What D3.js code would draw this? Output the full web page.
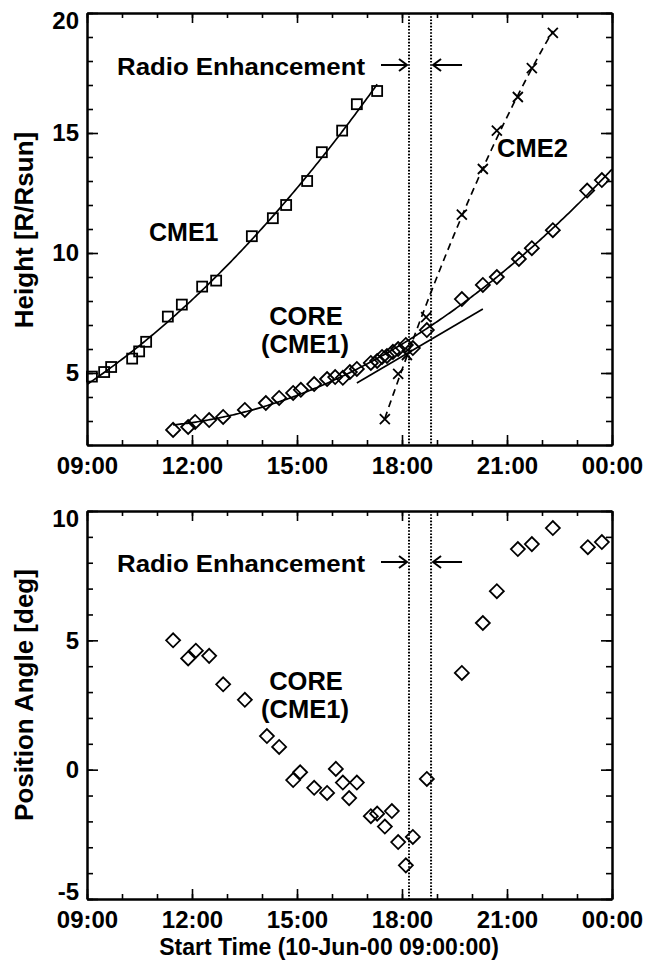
<!DOCTYPE html>
<html>
<head>
<meta charset="utf-8">
<script src="https://cdn.jsdelivr.net/npm/d3@7"></script>
<style>
  body { margin: 0; background: #fff; }
  text { font-family: "Liberation Sans", Arial, Helvetica, sans-serif; font-weight: bold; fill: #000; }
</style>
</head>
<body>
<div id="chart"></div>
<script>
// times are hours after 00:00 on 10-Jun-00 (24 = 00:00 next day)
var cme1Time   = [9.14, 9.49, 9.69, 10.29, 10.49, 10.69, 11.31, 11.71, 12.29, 12.69, 13.71, 14.31, 14.69, 15.29, 15.71, 16.29, 16.71, 17.29];
var cme1Height = [4.85, 5.04, 5.25, 5.6, 5.9, 6.3, 7.35, 7.85, 8.6, 8.85, 10.7, 11.45, 12.0, 13.0, 14.2, 15.1, 16.2, 16.75];

var coreTime   = [11.46, 11.89, 12.09, 12.49, 12.89, 13.51, 14.11, 14.49, 14.89, 15.11, 15.49, 15.86, 16.09, 16.31, 16.51, 16.71, 17.11, 17.29, 17.43, 17.57, 17.74, 17.89, 18.11, 18.31, 18.71, 19.71, 20.31, 20.71, 21.34, 21.71, 22.31, 23.29, 23.71];
var coreHeight = [2.63, 2.75, 2.96, 3.04, 3.17, 3.46, 3.75, 3.96, 4.17, 4.3, 4.54, 4.75, 4.83, 4.8, 5.04, 5.17, 5.42, 5.5, 5.67, 5.71, 5.88, 6.0, 6.17, 6.04, 6.79, 8.08, 8.67, 9.0, 9.75, 10.2, 10.95, 12.6, 13.04];

var cme2Time   = [17.51, 17.89, 18.14, 18.69, 19.71, 20.31, 20.71, 21.31, 21.71, 22.31];
var cme2Height = [3.08, 4.96, 5.75, 7.33, 11.6, 13.5, 15.1, 16.5, 17.7, 19.17];

// straight line drawn through the core track (end points)
var coreLineTime   = [16.71, 20.31];
var coreLineHeight = [4.58, 7.67];

var paTime  = [11.46, 11.89, 12.11, 12.49, 12.89, 13.51, 14.14, 14.49, 14.89, 15.09, 15.49, 15.86, 16.11, 16.31, 16.49, 16.71, 17.11, 17.29, 17.51, 17.71, 17.89, 18.11, 18.31, 18.71, 19.71, 20.31, 20.71, 21.31, 21.71, 22.31, 23.31, 23.71];
var paAngle = [5.0, 4.3, 4.6, 4.4, 3.3, 2.7, 1.3, 0.88, -0.4, -0.1, -0.7, -0.9, 0.03, -0.5, -1.1, -0.5, -1.8, -1.7, -2.2, -1.6, -2.8, -3.7, -2.6, -0.36, 3.74, 5.67, 6.9, 8.53, 8.72, 9.34, 8.6, 8.8];

var radioTimes  = [18.2, 18.83];
var xTicks      = [9, 12, 15, 18, 21, 24];
var xTickLabels = ["09:00", "12:00", "15:00", "18:00", "21:00", "00:00"];
var heightTicks = [5, 10, 15, 20];
var angleTicks  = [-5, 0, 5, 10];

var w = 647, h = 966;
var svg = d3.select("#chart").append("svg").attr("width", w).attr("height", h);

var x = d3.scaleLinear().domain([9, 24]).range([87, 612]);
var yH = d3.scaleLinear().domain([2, 20]).range([445, 13]);
var yA = d3.scaleLinear().domain([-5, 10]).range([899, 511]);

// least squares quadratic, returns a function of t
function quadFit(ts, vs) {
    var m = d3.mean(ts), S = [0, 0, 0, 0, 0], T = [0, 0, 0];
    ts.forEach(function (t, i) {
        var u = t - m, p = 1;
        for (var k = 0; k < 5; k++) {
            S[k] += p;
            if (k < 3) T[k] += p * vs[i];
            p *= u;
        }
    });
    var A = [[S[0], S[1], S[2]], [S[1], S[2], S[3]], [S[2], S[3], S[4]]];
    function det(M) {
        return M[0][0] * (M[1][1] * M[2][2] - M[1][2] * M[2][1])
             - M[0][1] * (M[1][0] * M[2][2] - M[1][2] * M[2][0])
             + M[0][2] * (M[1][0] * M[2][1] - M[1][1] * M[2][0]);
    }
    var D = det(A), c = [];
    for (var j = 0; j < 3; j++) {
        var B = A.map(function (row, r) { return row.map(function (v, col) { return col === j ? T[r] : v; }); });
        c.push(det(B) / D);
    }
    return function (t) { var u = t - m; return c[0] + c[1] * u + c[2] * u * u; };
}

function drawFrame(y, ticks, minor) {
    var g = svg.append("g");
    g.append("g").attr("transform", "translate(0," + y.range()[0] + ")")
        .call(d3.axisBottom(x).tickValues(xTicks).tickSize(-10).tickSizeOuter(0).tickPadding(12)
            .tickFormat(function (d, i) { return xTickLabels[i]; }));
    g.append("g").attr("transform", "translate(0," + y.range()[0] + ")")
        .call(d3.axisBottom(x).tickValues(d3.range(9, 25, 1)).tickSize(-5).tickSizeOuter(0).tickFormat(""));
    g.append("g").attr("transform", "translate(0," + y.range()[1] + ")")
        .call(d3.axisTop(x).tickValues(xTicks).tickSize(-10).tickSizeOuter(0).tickFormat(""));
    g.append("g").attr("transform", "translate(0," + y.range()[1] + ")")
        .call(d3.axisTop(x).tickValues(d3.range(9, 25, 1)).tickSize(-5).tickSizeOuter(0).tickFormat(""));

    var yl = g.append("g").attr("transform", "translate(" + x.range()[0] + ",0)")
        .call(d3.axisLeft(y).tickValues(ticks).tickSize(-11).tickSizeOuter(0).tickPadding(8)
            .tickFormat(function (d) { return String(d); }));
    g.append("g").attr("transform", "translate(" + x.range()[0] + ",0)")
        .call(d3.axisLeft(y).tickValues(d3.range(y.domain()[0], y.domain()[1] + 1, minor)).tickSize(-6).tickSizeOuter(0).tickFormat(""));
    g.append("g").attr("transform", "translate(" + x.range()[1] + ",0)")
        .call(d3.axisRight(y).tickValues(ticks).tickSize(-11).tickSizeOuter(0).tickFormat(""));
    g.append("g").attr("transform", "translate(" + x.range()[1] + ",0)")
        .call(d3.axisRight(y).tickValues(d3.range(y.domain()[0], y.domain()[1] + 1, minor)).tickSize(-6).tickSizeOuter(0).tickFormat(""));

    g.selectAll(".domain").attr("stroke", "#000").attr("stroke-width", 2);
    g.selectAll(".tick line").attr("stroke", "#000").attr("stroke-width", 1.6);
    g.selectAll(".tick text").attr("font-size", 24);

    // labels at the ends of the axis stay inside the frame (IDL style)
    yl.selectAll(".tick text").attr("dy", function (d) {
        if (d === y.domain()[1]) return "0.66em";
        if (d === y.domain()[0]) return "0em";
        return "0.32em";
    });

    // dotted lines for the radio enhancement interval
    g.selectAll("line.radio").data(radioTimes).enter().append("line")
        .attr("class", "radio")
        .attr("x1", function (d) { return x(d); }).attr("x2", function (d) { return x(d); })
        .attr("y1", y.range()[1]).attr("y2", y.range()[0])
        .attr("stroke", "#000").attr("stroke-width", 2).attr("stroke-dasharray", "1.6,1.6");
    return g;
}

function radioLabel(g, yText, yArrow) {
    g.append("text").attr("x", 117).attr("y", yText).attr("font-size", 24)
        .attr("textLength", 248).attr("lengthAdjust", "spacingAndGlyphs")
        .text("Radio Enhancement");
    var t0 = x(radioTimes[0]) - 2, t1 = x(radioTimes[1]) + 2;
    var p = d3.path();
    p.moveTo(t0 - 26, yArrow); p.lineTo(t0, yArrow);
    p.moveTo(t0 - 8, yArrow - 6); p.lineTo(t0, yArrow); p.lineTo(t0 - 8, yArrow + 6);
    p.moveTo(t1 + 29, yArrow); p.lineTo(t1, yArrow);
    p.moveTo(t1 + 8, yArrow - 6); p.lineTo(t1, yArrow); p.lineTo(t1 + 8, yArrow + 6);
    g.append("path").attr("d", p.toString()).attr("fill", "none")
        .attr("stroke", "#000").attr("stroke-width", 2);
}

function square(g, ts, vs, y) {
    g.selectAll(null).data(ts).enter().append("rect")
        .attr("x", function (d) { return x(d) - 5; })
        .attr("y", function (d, i) { return y(vs[i]) - 5; })
        .attr("width", 10).attr("height", 10)
        .attr("fill", "none").attr("stroke", "#000").attr("stroke-width", 1.8);
}
function diamond(g, ts, vs, y) {
    g.selectAll(null).data(ts).enter().append("path")
        .attr("d", function (d, i) {
            var cx = x(d), cy = y(vs[i]), r = 7;
            return "M" + (cx - r) + "," + cy + "L" + cx + "," + (cy - r) + "L" + (cx + r) + "," + cy + "L" + cx + "," + (cy + r) + "Z";
        })
        .attr("fill", "none").attr("stroke", "#000").attr("stroke-width", 1.8);
}
function cross(g, ts, vs, y) {
    g.selectAll(null).data(ts).enter().append("path")
        .attr("d", function (d, i) {
            var cx = x(d), cy = y(vs[i]), r = 5;
            return "M" + (cx - r) + "," + (cy - r) + "L" + (cx + r) + "," + (cy + r) + "M" + (cx - r) + "," + (cy + r) + "L" + (cx + r) + "," + (cy - r);
        })
        .attr("fill", "none").attr("stroke", "#000").attr("stroke-width", 1.8);
}
function fitCurve(g, f, t0, t1, y, dash) {
    var line = d3.line().x(function (t) { return x(t); }).y(function (t) { return y(f(t)); });
    g.append("path").datum(d3.range(t0, t1, 0.05).concat([t1])).attr("d", line)
        .attr("fill", "none").attr("stroke", "#000").attr("stroke-width", 1.7)
        .attr("stroke-dasharray", dash || null);
}

// ---- top panel: height-time
var hPanel = drawFrame(yH, heightTicks, 1);
fitCurve(hPanel, quadFit(cme1Time, cme1Height), 9, d3.max(cme1Time), yH);
fitCurve(hPanel, quadFit(coreTime, coreHeight), d3.min(coreTime), 24, yH);
fitCurve(hPanel, quadFit(cme2Time, cme2Height), d3.min(cme2Time), d3.max(cme2Time), yH, "7,5");
hPanel.append("path").datum(d3.zip(coreLineTime, coreLineHeight))
    .attr("d", d3.line().x(function (d) { return x(d[0]); }).y(function (d) { return yH(d[1]); }))
    .attr("fill", "none").attr("stroke", "#000").attr("stroke-width", 1.7);
square(hPanel, cme1Time, cme1Height, yH);
diamond(hPanel, coreTime, coreHeight, yH);
cross(hPanel, cme2Time, cme2Height, yH);
radioLabel(hPanel, 75, 65);
hPanel.append("text").attr("x", 149).attr("y", 241).attr("font-size", 25).text("CME1");
hPanel.append("text").attr("x", 306).attr("y", 325).attr("font-size", 25.5).attr("text-anchor", "middle").text("CORE");
hPanel.append("text").attr("x", 305).attr("y", 353).attr("font-size", 25.5).attr("text-anchor", "middle").text("(CME1)");
hPanel.append("text").attr("x", 497).attr("y", 157).attr("font-size", 25.5).text("CME2");
hPanel.append("text").attr("transform", "translate(33,230) rotate(-90)").attr("text-anchor", "middle")
    .attr("font-size", 26).text("Height [R/Rsun]");

// ---- bottom panel: position angle
var paPanel = drawFrame(yA, angleTicks, 1);
diamond(paPanel, paTime, paAngle, yA);
radioLabel(paPanel, 572, 562);
paPanel.append("text").attr("x", 306).attr("y", 690).attr("font-size", 25.5).attr("text-anchor", "middle").text("CORE");
paPanel.append("text").attr("x", 305).attr("y", 718).attr("font-size", 25.5).attr("text-anchor", "middle").text("(CME1)");
paPanel.append("text").attr("transform", "translate(33,695) rotate(-90)").attr("text-anchor", "middle")
    .attr("font-size", 26).text("Position Angle [deg]");
paPanel.append("text").attr("x", 329).attr("y", 955).attr("font-size", 23).attr("text-anchor", "middle")
    .text("Start Time (10-Jun-00 09:00:00)");
</script>
</body>
</html>
